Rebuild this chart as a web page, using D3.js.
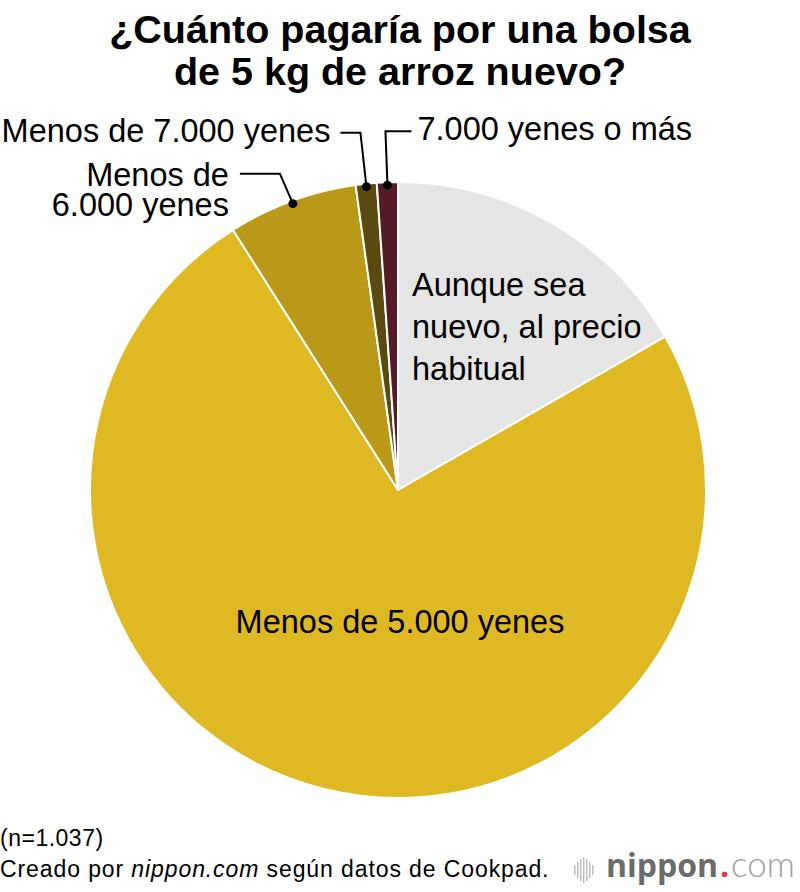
<!DOCTYPE html>
<html>
<head>
<meta charset="utf-8">
<script src="https://cdn.jsdelivr.net/npm/d3@7"></script>
<style>
  html, body { margin: 0; padding: 0; background: #fff; }
  svg { display: block; font-family: "Liberation Sans", Arial, Helvetica, sans-serif; }
</style>
</head>
<body>
<svg id="chart" width="800" height="892"></svg>
<script>
// ---- Data ----
const categories = [
  "Aunque sea nuevo, al precio habitual",
  "Menos de 5.000 yenes",
  "Menos de 6.000 yenes",
  "Menos de 7.000 yenes",
  "7.000 yenes o más"
];
const values = [16.7, 74.3, 6.8, 1.1, 1.1];
const colors = ["#e5e5e5", "#dfb924", "#bb9918", "#5b4a0f", "#561b29"];
const titleLines = ["¿Cuánto pagaría por una bolsa", "de 5 kg de arroz nuevo?"];
const sampleNote = "(n=1.037)";

const svg = d3.select("#chart");
const W = 800;
const cx = 398, cy = 490, R = 308;

// Title
const title = svg.append("text")
  .attr("text-anchor", "middle")
  .attr("font-weight", "bold")
  .attr("font-size", 39.5)
  .attr("fill", "#000");
titleLines.forEach((t, i) => {
  title.append("tspan").attr("x", W / 2).attr("y", 43 + i * 42).text(t);
});

// Pie
const pie = d3.pie().sort(null).value(d => d.v).startAngle(0).endAngle(2 * Math.PI);
const data = categories.map((c, i) => ({ c, v: values[i], col: colors[i] }));
const arcs = pie(data);
const arc = d3.arc().innerRadius(0).outerRadius(R);

const g = svg.append("g").attr("transform", `translate(${cx},${cy})`);
g.selectAll("path.slice")
  .data(arcs)
  .join("path")
  .attr("class", "slice")
  .attr("d", arc)
  .attr("fill", d => d.data.col)
  .attr("stroke", "#fff")
  .attr("stroke-width", 2)
  .attr("stroke-linejoin", "round");

// inner labels
const labelFont = 32.5;
const aunque = g.append("text")
  .attr("font-size", labelFont)
  .attr("fill", "#000");
["Aunque sea", "nuevo, al precio", "habitual"].forEach((t, i) => {
  aunque.append("tspan").attr("x", 14).attr("y", -194 + i * 42).text(t);
});
g.append("text")
  .attr("font-size", labelFont)
  .attr("text-anchor", "middle")
  .attr("x", 2)
  .attr("y", 143)
  .text(categories[1]);

// outer labels with leader lines
const dotR = R - 3;
function dotPos(a) {
  const ang = (a.startAngle + a.endAngle) / 2;
  return [Math.sin(ang) * dotR, -Math.cos(ang) * dotR];
}
const leaders = [
  { idx: 2, bend: [-13, -30], end: [-53, -30] },
  { idx: 3, bend: [-6, -54], end: [-26, -54] },
  { idx: 4, bend: [-2, -54], end: [24, -54] }
];
leaders.forEach(L => {
  const p = dotPos(arcs[L.idx]);
  const b = [p[0] + L.bend[0], p[1] + L.bend[1]];
  const e = [p[0] + L.end[0], p[1] + L.end[1]];
  g.append("path")
    .attr("d", d3.line()([p, b, e]))
    .attr("fill", "none")
    .attr("stroke", "#000")
    .attr("stroke-width", 2);
  g.append("circle").attr("cx", p[0]).attr("cy", p[1]).attr("r", 4.5).attr("fill", "#000");
  L.p = p; L.e = e;
});

{
  const L = leaders[0];
  const t = g.append("text").attr("font-size", labelFont).attr("text-anchor", "end");
  t.append("tspan").attr("x", L.e[0] - 11).attr("y", L.e[1] + 12).text("Menos de");
  t.append("tspan").attr("x", L.e[0] - 11).attr("y", L.e[1] + 42).text("6.000 yenes");
}
{
  const L = leaders[1];
  g.append("text").attr("font-size", labelFont).attr("text-anchor", "end")
    .attr("x", L.e[0] - 10).attr("y", L.e[1] + 9).text(categories[3]);
}
{
  const L = leaders[2];
  g.append("text").attr("font-size", labelFont).attr("text-anchor", "start")
    .attr("x", L.e[0] + 6).attr("y", L.e[1] + 9).text(categories[4]);
}

// Footer
svg.append("text").attr("x", 0).attr("y", 846).attr("font-size", 23)
  .attr("letter-spacing", 0.5).text(sampleNote);
const src = svg.append("text").attr("x", 0).attr("y", 877).attr("font-size", 23)
  .attr("letter-spacing", 0.9);
src.append("tspan").text("Creado por ");
src.append("tspan").attr("font-style", "italic").text("nippon.com");
src.append("tspan").text(" según datos de Cookpad.");

// Logo
const logo = svg.append("g");
const barH = [10, 16, 22, 26, 22, 16, 10];
barH.forEach((h, i) => {
  logo.append("rect")
    .attr("x", 574 + i * 3)
    .attr("y", 870 - h / 2)
    .attr("width", 1.5)
    .attr("height", h)
    .attr("fill", "#bdbdbd");
});
const logoText = logo.append("text").attr("y", 877)
  .attr("font-family", "'Open Sans', 'Noto Sans', sans-serif");
logoText.append("tspan").attr("x", 606).attr("font-size", 32).attr("font-weight", "bold")
  .attr("fill", "#6b6b6b").text("nippon");
logoText.append("tspan").attr("x", 720).attr("font-size", 32).attr("font-weight", "bold")
  .attr("fill", "#e8343a").text(".");
logoText.append("tspan").attr("x", 731).attr("font-size", 35).attr("font-weight", "300")
  .attr("font-family", "Lato, 'Open Sans', sans-serif")
  .attr("fill", "#a0a0a0").text("com");
</script>
</body>
</html>
